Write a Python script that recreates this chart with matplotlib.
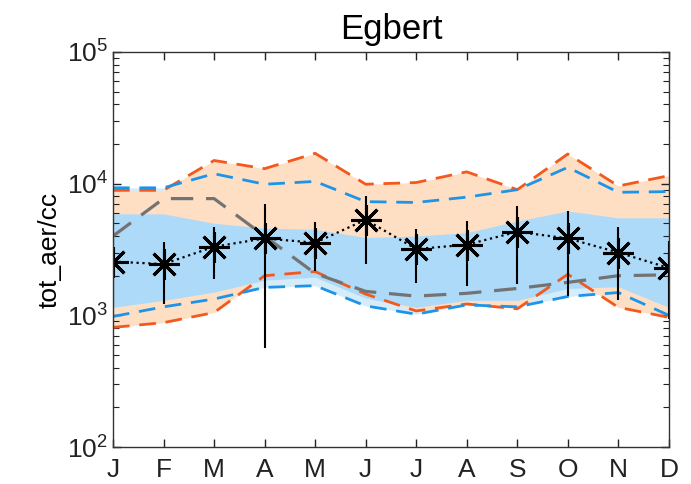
import numpy as np
import matplotlib
matplotlib.use("Agg")
import matplotlib.pyplot as plt

# monthly total aerosol number concentration, site Egbert
months = ['J', 'F', 'M', 'A', 'M', 'J', 'J', 'A', 'S', 'O', 'N', 'D']

# ensemble envelopes (max / min over members)
orange_max = [8900, 8900, 15000, 13000, 17000, 9900, 10200, 12300, 9000, 16800, 9600, 11500]
orange_min = [810, 880, 1050, 2000, 2150, 1450, 1080, 1220, 1120, 2050, 1150, 965]
blue_max = [9300, 9300, 11900, 9900, 10400, 7300, 7200, 7900, 9000, 13300, 8600, 8700]
blue_min = [980, 1160, 1330, 1630, 1680, 1180, 1020, 1200, 1160, 1390, 1490, 1000]

# where most blue members sit
core_hi = [5900, 5900, 5000, 4600, 4500, 3900, 4000, 4250, 5200, 6200, 5500, 5500]
core_lo = [1150, 1300, 1500, 1850, 1950, 1350, 1150, 1300, 1300, 1600, 1650, 1150]

# gray dashed series
gray_line = [4000, 7700, 7700, 4000, 2080, 1520, 1400, 1470, 1600, 1780, 2000, 2030]

# observations: mean with range
obs_mean = [2560, 2450, 3320, 3840, 3560, 5320, 3190, 3440, 4310, 3840, 3000, 2290]
obs_hi = [3910, 3620, 4650, 7000, 5080, 8110, 4520, 5170, 6810, 6240, 4710, 3690]
obs_lo = [1160, 1230, 1880, 569, 2180, 2450, 1760, 1675, 1730, 1400, 1305, 940]

plt.rcParams['font.family'] = ['Liberation Sans', 'DejaVu Sans']
plt.rcParams['mathtext.default'] = 'regular'

x = np.arange(1, 13)

fig = plt.figure(figsize=(6.91, 4.84), dpi=100)
ax = fig.add_axes([0.1635, 0.0764, 0.8045, 0.8162])

peach = '#FEDFC3'
sky = '#ADDAF8'

# ensemble bands
ax.fill_between(x, blue_min, blue_max, color=sky, alpha=0.5, lw=0)
ax.fill_between(x, orange_min, orange_max, color=peach, lw=0)
ax.fill_between(x, core_lo, core_hi, color=sky, lw=0)

# envelope lines
ax.plot(x, orange_max, color='#F4581C', lw=2, dashes=(6, 3.5))
ax.plot(x, orange_min, color='#F4581C', lw=2, dashes=(6, 3.5))
ax.plot(x, blue_max, color='#1E94E8', lw=2, dashes=(6, 3.5))
ax.plot(x, blue_min, color='#1E94E8', lw=2, dashes=(6, 3.5))
ax.plot(x, gray_line, color='#737373', lw=2.3, dashes=(7, 4))

# observations
obs_mean = np.array(obs_mean)
yerr = [obs_mean - np.array(obs_lo), np.array(obs_hi) - obs_mean]
ax.errorbar(x, obs_mean, yerr=yerr, fmt='none', ecolor='black', elinewidth=1.5, capsize=0)
ax.plot(x, obs_mean, color='black', ls=':', lw=1.6)
ax.plot(x, obs_mean, ls='none', marker=(8, 2, 0), ms=22, mec='black', mew=2.2)
ax.plot(x, obs_mean, ls='none', marker='o', ms=4, color='black')

ax.set_yscale('log')
ax.set_ylim(1e2, 1e5)
ax.set_xlim(1, 12)
ax.set_xticks(x)
ax.set_xticklabels(months)
ax.set_yticks([1e2, 1e3, 1e4, 1e5])
ax.set_yticklabels(['$10^2$', '$10^3$', '$10^4$', '$10^5$'])

ax.tick_params(which='both', direction='in', top=True, right=True, labelsize=19, colors='#222222')
ax.tick_params(which='major', length=6, width=1)
ax.tick_params(which='minor', length=4, width=0.8)
ax.tick_params(axis='x', pad=8)
for s in ax.spines.values():
    s.set_color('#333333')
    s.set_linewidth(1)

ax.set_ylabel('tot_aer/cc', fontsize=19, labelpad=4)
ax.set_title('Egbert', fontsize=25, pad=9)

fig.savefig('out.png', dpi=100)
